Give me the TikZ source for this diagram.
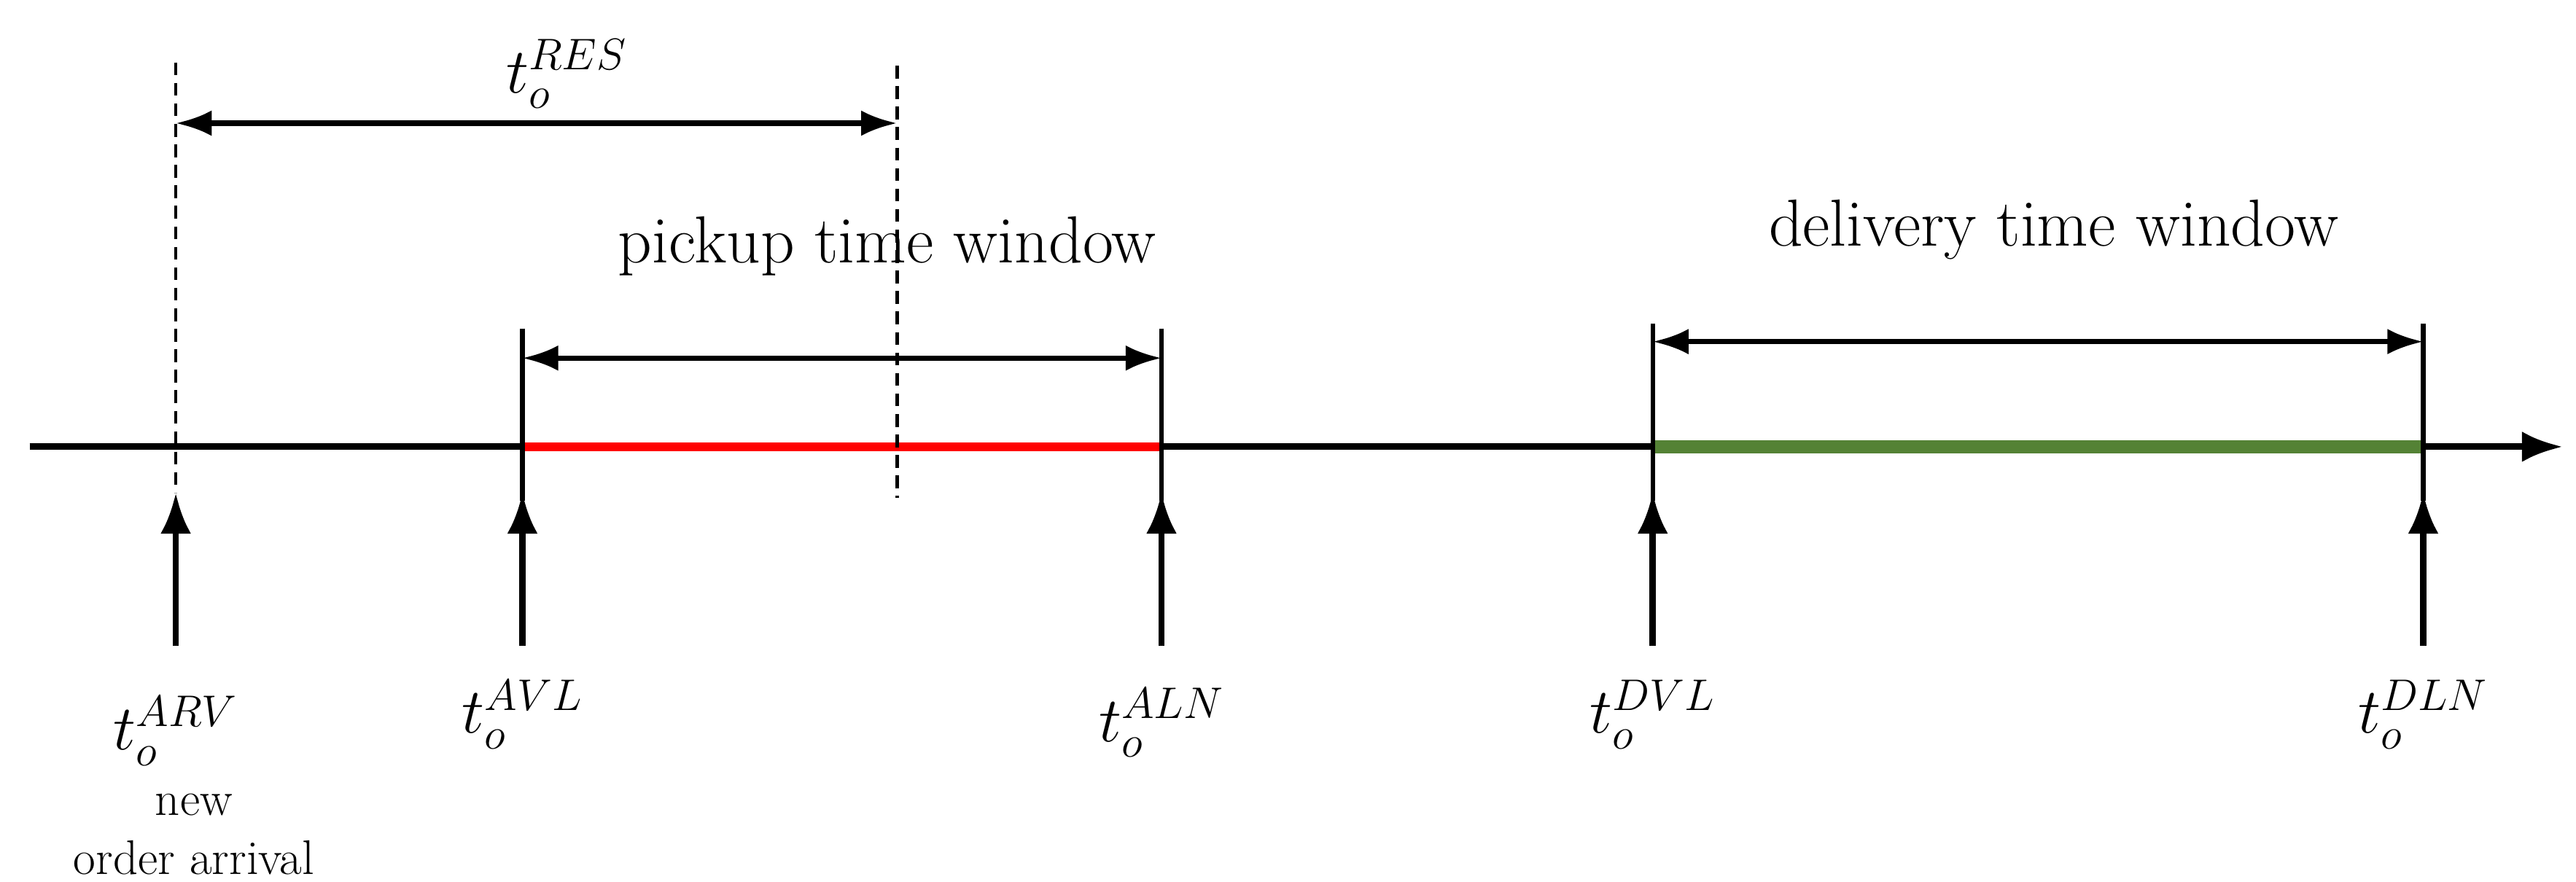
\documentclass[tikz,border=0pt]{standalone}
\usepackage{amsmath}
\usetikzlibrary{arrows.meta}
\definecolor{dgreen}{RGB}{84,130,53}
\begin{document}
\begin{tikzpicture}[x=0.02253cm,y=-0.02253cm,
  lbl/.style={font=\fontsize{26}{30}\selectfont},
  sml/.style={font=\fontsize{19}{23}\selectfont,align=center},
  dim/.style={line width=2pt,{Latex[length=14pt,width=10pt]}-{Latex[length=14pt,width=10pt]}},
  up/.style={line width=2.5pt,-{Latex[length=16pt,width=12pt]}},
  dsh/.style={line width=1.3pt,dash pattern=on 5pt off 3pt},
  tick/.style={line width=1.8pt}]
\useasboundingbox (0,0) rectangle (1568,537);
% axis
\coordinate (a0) at (18,272); \coordinate (a1) at (1560,272);
\draw[line width=2.6pt,-{Latex[length=16pt,width=12pt]}] (a0) -- (a1);
% tick coordinates
\foreach \n/\x in {arv/107,avl/318,aln/707,dvl/1006,dln/1475}{
  \coordinate (\n) at (\x,272);
  \coordinate (\n b) at (\x,393);
  \coordinate (\n c) at (\x,300);
  \draw[up] (\n b) -- (\n c);
}
\draw[red,line width=3.5pt] (avl) -- (aln);
\draw[dgreen,line width=5pt] (dvl) -- (dln);
% dashed
\coordinate (d1t) at (107,38); \coordinate (d1b) at (107,300);
\coordinate (d2t) at (546,40); \coordinate (d2b) at (546,303);
\draw[dsh] (d1t) -- (d1b);
\draw[dsh] (d2t) -- (d2b);
\coordinate (r1) at (107,75); \coordinate (r2) at (546,75);
\draw[dim] (r1) -- (r2);
\node[lbl] (res) at (345,45) {$t_o^{RES}$};
% pickup
\foreach \n in {avl,aln}{\draw[tick] (\n) ++(0,-72) coordinate (\n t) -- ++(0,105);}
\coordinate (p1) at (318,218); \coordinate (p2) at (707,218);
\draw[dim] (p1) -- (p2);
\node[lbl] (pk) at (540,150) {pickup time window};
% delivery
\foreach \n in {dvl,dln}{\draw[tick] (\n) ++(0,-75) coordinate (\n t) -- ++(0,108);}
\coordinate (q1) at (1006,208); \coordinate (q2) at (1475,208);
\draw[dim] (q1) -- (q2);
\node[lbl] (dl) at (1250,140) {delivery time window};
% labels
\node[lbl] (Larv) at (107,445) {$t_o^{ARV}$};
\node[lbl] (Lavl) at (318,435) {$t_o^{AVL}$};
\node[lbl] (Laln) at (707,440) {$t_o^{ALN}$};
\node[lbl] (Ldvl) at (1006,435) {$t_o^{DVL}$};
\node[lbl] (Ldln) at (1475,435) {$t_o^{DLN}$};
\node[sml] (nw) at (118,508) {new\\order arrival};
\end{tikzpicture}
\end{document}
